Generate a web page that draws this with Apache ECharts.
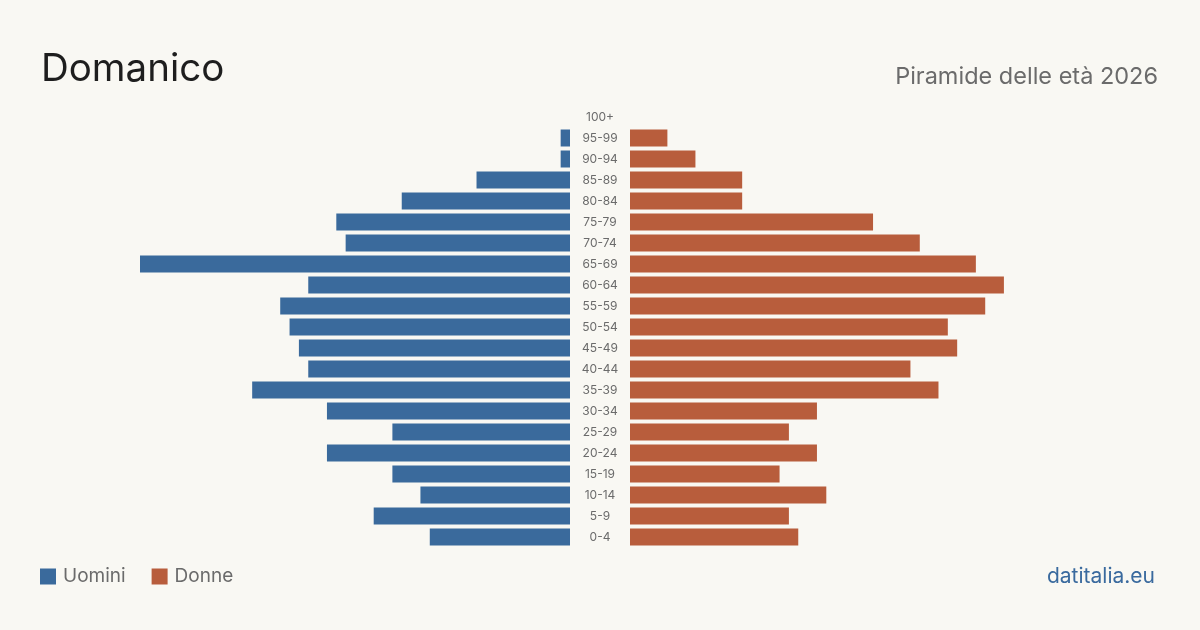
<!DOCTYPE html>
<html>
<head>
<meta charset="utf-8">
<script src="https://cdn.jsdelivr.net/npm/echarts@6/dist/echarts.min.js"></script>
<style>
html,body{margin:0;padding:0;background:#f9f8f3;}
#c{width:1200px;height:630px;}
</style>
</head>
<body>
<div id="c"></div>
<script>
const ageGroups = ['0-4','5-9','10-14','15-19','20-24','25-29','30-34','35-39','40-44','45-49','50-54','55-59','60-64','65-69','70-74','75-79','80-84','85-89','90-94','95-99','100+'];
const men   = [15,21,16,19,26,19,26,34,28,29,30,31,28,46,24,25,18,10,1,1,0];
const women = [18,17,21,16,20,17,20,33,30,35,34,38,40,37,31,26,12,12,7,4,0];
const axisMax = 46;

const FONT = 'Inter, "Liberation Sans", sans-serif';
const chart = echarts.init(document.getElementById('c'));
chart.setOption({
  backgroundColor: '#f9f8f3',
  animation: false,
  textStyle: { fontFamily: FONT },
  title: [
    { text: 'Domanico', left: 36, top: 45, textStyle: { fontSize: 38.5, fontWeight: 'normal', color: '#1e1e1e', fontFamily: FONT } },
    { text: 'Piramide delle età 2026', right: 37, top: 60, textStyle: { fontSize: 23.5, fontWeight: 'normal', color: '#6b6b6b', fontFamily: FONT } },
    { text: 'datitalia.eu', right: 40, top: 561, textStyle: { fontSize: 21, fontWeight: 'normal', color: '#3a6a9e', fontFamily: FONT } }
  ],
  legend: {
    left: 40, top: 567, itemWidth: 16, itemHeight: 16, itemGap: 26, padding: 0,
    icon: 'rect',
    textStyle: { fontSize: 19, color: '#6b6b6b', fontFamily: FONT, padding: [0,0,0,2] },
    data: ['Uomini','Donne']
  },
  grid: [
    { left: 140, width: 430, top: 106.5, height: 441 },
    { left: 630, width: 430, top: 106.5, height: 441 }
  ],
  xAxis: [
    { gridIndex: 0, type: 'value', min: 0, max: axisMax, inverse: true, show: false },
    { gridIndex: 1, type: 'value', min: 0, max: axisMax, show: false }
  ],
  yAxis: [
    { gridIndex: 0, type: 'category', data: ageGroups, show: false },
    { gridIndex: 1, type: 'category', data: ageGroups,
      axisLine: { show: false }, axisTick: { show: false },
      axisLabel: { margin: 30, align: 'center', fontSize: 12, color: '#6b6b6b', fontFamily: FONT } }
  ],
  series: [
    { name: 'Uomini', type: 'bar', xAxisIndex: 0, yAxisIndex: 0, data: men, barWidth: 17, itemStyle: { color: '#3a6a9c' } },
    { name: 'Donne', type: 'bar', xAxisIndex: 1, yAxisIndex: 1, data: women, barWidth: 17, itemStyle: { color: '#b85d3c' } }
  ]
});
</script>
</body>
</html>
